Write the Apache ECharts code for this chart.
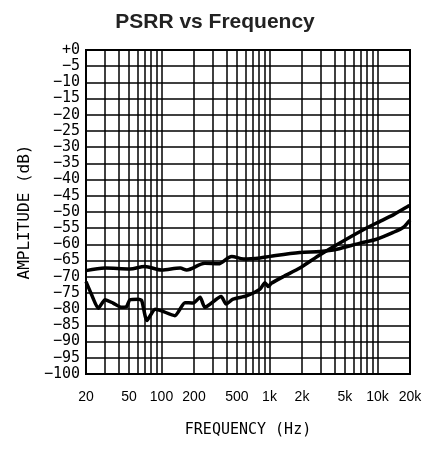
<!DOCTYPE html>
<html>
<head>
<meta charset="utf-8">
<script src="https://cdn.jsdelivr.net/npm/echarts@6/dist/echarts.min.js"></script>
<style>html,body{margin:0;padding:0;background:#fff;}#c{width:430px;height:451px;}</style>
</head>
<body>
<div id="c"></div>
<script>
// Frequencies (Hz) and PSRR (dB)
var freqA = [20, 30, 51, 70, 100, 149, 171, 252, 336, 447, 575, 818, 1012, 1910, 2940, 4200, 6900, 9800, 14000, 17400, 19500, 20000];
var psrrA = [-68.1, -67.3, -67.6, -66.8, -67.9, -67.3, -67.9, -65.8, -66.0, -63.7, -64.5, -64.2, -63.7, -62.5, -62.2, -61.5, -59.6, -58.4, -56.3, -54.7, -52.9, -52.5];

var freqB = [20, 22.6, 26, 30, 35.6, 42.7, 47.5, 51, 61, 65.5, 73.3, 87.3, 100, 133, 165, 197, 228, 252, 357, 397, 460, 613, 818, 908, 973, 1040, 1350, 1910, 2940, 4200, 6900, 9800, 14000, 19500, 20000];
var psrrB = [-71.5, -75.6, -79.7, -77.1, -78.1, -79.4, -79.2, -77.1, -76.9, -77.3, -83.5, -80.0, -80.5, -82.0, -78.0, -78.1, -76.3, -79.4, -76.1, -78.4, -76.9, -75.9, -73.8, -71.8, -73.0, -72.0, -69.9, -67.3, -63.2, -60.1, -56.0, -53.4, -50.9, -48.1, -47.9];

var gridFreqs = [20, 30, 40, 50, 60, 70, 80, 90, 100, 200, 300, 400, 500, 600, 700, 800, 900, 1000, 2000, 3000, 4000, 5000, 6000, 7000, 8000, 9000, 10000, 20000];
var xTickLabels = [20, 50, 100, 200, 500, 1000, 2000, 5000, 10000, 20000];

function pairs(f, v) { return f.map(function (x, i) { return [x, v[i]]; }); }

var monoFont = 'DejaVu Sans Mono';
var chart = echarts.init(document.getElementById('c'));
chart.setOption({
  animation: false,
  backgroundColor: '#fff',
  title: {
    text: 'PSRR vs Frequency',
    left: 'center',
    top: 7,
    textStyle: { fontFamily: 'Liberation Sans', fontWeight: 'bold', fontSize: 21, color: '#222' }
  },
  grid: { left: 86, right: 20, top: 50, height: 324, show: true, borderColor: '#000', borderWidth: 2 },
  xAxis: {
    type: 'log', logBase: 10, min: 20, max: 20000,
    name: 'FREQUENCY (Hz)', nameLocation: 'middle', nameGap: 49,
    nameTextStyle: { fontFamily: monoFont, fontSize: 15, color: '#000' },
    axisLine: { show: true, lineStyle: { color: '#000', width: 2 } },
    axisTick: { show: false },
    splitLine: { show: false },
    axisLabel: {
      customValues: xTickLabels,
      fontFamily: 'Liberation Sans', fontSize: 14, color: '#000', margin: 16,
      formatter: function (v) { return v >= 1000 ? (v / 1000) + 'k' : String(v); }
    }
  },
  yAxis: {
    type: 'value', min: -100, max: 0, interval: 5,
    name: 'AMPLITUDE (dB)', nameLocation: 'middle', nameGap: 51, nameRotate: 90,
    nameTextStyle: { fontFamily: monoFont, fontSize: 16, color: '#000' },
    axisLine: { show: true, lineStyle: { color: '#000', width: 2 } },
    axisTick: { show: false },
    splitLine: { show: true, lineStyle: { color: '#000', width: 1.5 } },
    axisLabel: {
      fontFamily: monoFont, fontSize: 15, color: '#000', margin: 6,
      formatter: function (v) { return v === 0 ? '+0' : '\u2212' + (-v); }
    }
  },
  series: [
    {
      type: 'line', data: pairs(freqA, psrrA), showSymbol: false, smooth: 0.3,
      lineStyle: { color: '#000', width: 3.5 }, z: 5,
      markLine: {
        silent: true, symbol: 'none', animation: false,
        label: { show: false },
        lineStyle: { color: '#000', width: 1.5, type: 'solid' },
        data: gridFreqs.map(function (f) { return { xAxis: f }; })
      }
    },
    {
      type: 'line', data: pairs(freqB, psrrB), showSymbol: false, smooth: 0.2,
      lineStyle: { color: '#000', width: 3.5 }, z: 5
    }
  ]
});
</script>
</body>
</html>
